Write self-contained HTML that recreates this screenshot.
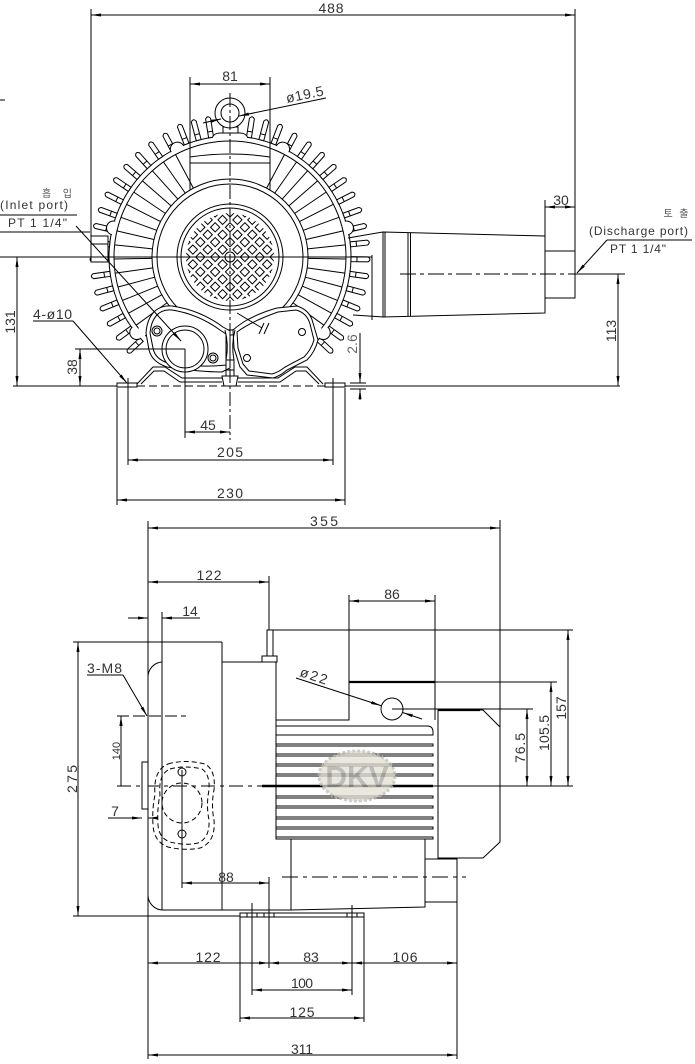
<!DOCTYPE html>
<html><head><meta charset="utf-8"><style>
html,body{margin:0;padding:0;background:#fff}
svg{display:block}
text{font-family:"Liberation Sans","Noto Sans CJK KR",sans-serif;fill:#333;font-size:14px}
.d{marker-start:url(#ar);marker-end:url(#ar)}
.e{marker-end:url(#ar)}
</style></head><body>
<svg width="695" height="1064" viewBox="0 0 695 1064" xmlns="http://www.w3.org/2000/svg">
<defs>
<marker id="ar" markerUnits="userSpaceOnUse" markerWidth="10" markerHeight="4" refX="10" refY="2" orient="auto-start-reverse" viewBox="0 0 10 4"><path d="M0,0.5 L10,2 L0,3.5z" fill="#000" stroke="none"/></marker>
<pattern id="grid" width="10.5" height="10.5" patternUnits="userSpaceOnUse" patternTransform="rotate(45 230 257) translate(224.75 251.75)">
<rect x="2" y="2" width="6.5" height="6.5" fill="#fff" stroke="#000" stroke-width="1"/>
</pattern>
<g id="fin" fill="#fff" stroke="#000" stroke-width="1">
<line x1="230" y1="179" x2="230" y2="141"/>
<path d="M227.5,136 L227.5,119 Q230,115 232.5,119 L232.5,136 Z"/>
<line x1="227.5" y1="130" x2="232.5" y2="130"/>
</g>
<g id="finb" fill="#fff" stroke="#000" stroke-width="1">
<path d="M227.5,136 L227.5,117 Q230,113 232.5,117 L232.5,136 Z"/>
<line x1="227.5" y1="130" x2="232.5" y2="130"/>
</g>
<path id="bump" d="M223,137 A7,7 0 0 1 237,137" fill="#fff" stroke="#000"/>
</defs>

<g stroke="#000" stroke-width="1" fill="none">
<!-- ===== TOP VIEW ===== -->
<line x1="91" y1="9" x2="91" y2="262"/>
<line x1="575" y1="9" x2="575" y2="298"/>
<line class="d" x1="91" y1="15" x2="575" y2="15"/>
<line x1="0" y1="100" x2="5" y2="100"/>

<path d="M190,192 V157 Q230,151 270,157 V192"/>
<line x1="190" y1="163" x2="270" y2="163"/>
<line x1="190" y1="77" x2="190" y2="157"/>
<line x1="270" y1="77" x2="270" y2="157"/>
<line class="d" x1="190" y1="84" x2="270" y2="84"/>

<path d="M134.7,331.5 A121,121 0 1 1 325.3,331.5"/>
<path d="M138.6,328.4 A116,116 0 1 1 321.4,328.4"/>

<use href="#finb" transform="rotate(9 230 257)"/>
<use href="#finb" transform="rotate(15 230 257)"/>
<use href="#finb" transform="rotate(21 230 257)"/>
<use href="#fin" transform="rotate(28 230 257)"/>
<use href="#fin" transform="rotate(35 230 257)"/>
<use href="#fin" transform="rotate(42 230 257)"/>
<use href="#fin" transform="rotate(49 230 257)"/>
<use href="#fin" transform="rotate(56 230 257)"/>
<use href="#fin" transform="rotate(63 230 257)"/>
<use href="#fin" transform="rotate(70 230 257)"/>
<use href="#fin" transform="rotate(77 230 257)"/>
<use href="#fin" transform="rotate(84 230 257)"/>
<use href="#fin" transform="rotate(91 230 257)"/>
<use href="#fin" transform="rotate(98 230 257)"/>
<use href="#fin" transform="rotate(105 230 257)"/>
<use href="#fin" transform="rotate(112 230 257)"/>
<use href="#fin" transform="rotate(119 230 257)"/>
<use href="#fin" transform="rotate(126 230 257)"/>
<use href="#fin" transform="rotate(133 230 257)"/>
<use href="#finb" transform="rotate(-9 230 257)"/>
<use href="#finb" transform="rotate(-15 230 257)"/>
<use href="#finb" transform="rotate(-21 230 257)"/>
<use href="#fin" transform="rotate(-28 230 257)"/>
<use href="#fin" transform="rotate(-35 230 257)"/>
<use href="#fin" transform="rotate(-42 230 257)"/>
<use href="#fin" transform="rotate(-49 230 257)"/>
<use href="#fin" transform="rotate(-56 230 257)"/>
<use href="#fin" transform="rotate(-63 230 257)"/>
<use href="#fin" transform="rotate(-70 230 257)"/>
<use href="#fin" transform="rotate(-77 230 257)"/>
<use href="#fin" transform="rotate(-84 230 257)"/>
<use href="#fin" transform="rotate(-91 230 257)"/>
<use href="#fin" transform="rotate(-98 230 257)"/>
<use href="#fin" transform="rotate(-105 230 257)"/>
<use href="#fin" transform="rotate(-112 230 257)"/>
<use href="#fin" transform="rotate(-119 230 257)"/>
<use href="#fin" transform="rotate(-126 230 257)"/>
<use href="#fin" transform="rotate(-133 230 257)"/>
<use href="#bump" transform="rotate(26 230 257)"/>
<use href="#bump" transform="rotate(-26 230 257)"/>
<use href="#bump" transform="rotate(76 230 257)"/>
<use href="#bump" transform="rotate(-76 230 257)"/>
<use href="#bump" transform="rotate(129 230 257)"/>
<use href="#bump" transform="rotate(-129 230 257)"/>

<path d="M212,138 Q214,133 220,133 H240 Q246,133 248,138" fill="#fff"/>
<rect x="223" y="127" width="15" height="6" fill="#fff"/>
<circle cx="230" cy="113" r="15" fill="#fff"/>
<circle cx="230" cy="113" r="9"/>

<circle cx="230" cy="257" r="78" fill="#fff"/>
<circle cx="230" cy="257" r="73"/>
<circle cx="230" cy="257" r="53"/>
<circle cx="230" cy="257" r="49"/>
<circle cx="230" cy="257" r="44" fill="url(#grid)" stroke="none"/>
<circle cx="230" cy="257" r="5" fill="#fff"/>

<rect x="91" y="236" width="17" height="26" fill="#fff"/>
<line x1="91" y1="244" x2="108" y2="244"/>

<path d="M348,238 L383,232 M353,315 L383,317"/>
<line x1="372" y1="255" x2="372" y2="320"/>
<path d="M383,232 L545,236 L545,313 L383,317 Z" fill="#fff"/>
<line x1="385" y1="232" x2="385" y2="317"/>
<line x1="408" y1="232.5" x2="408" y2="316.5"/>
<line x1="410.5" y1="232.6" x2="410.5" y2="316.4"/>
<rect x="545" y="251" width="30" height="47" fill="#fff"/>

<path d="M153,313 Q160,305 172,306 Q200,310 223,327 L230,331 L230,368 L222,372 Q200,372 167,367 Q152,362 149,350 L146,333 Q147,320 153,313 Z" fill="#fff"/>
<path d="M156,316 Q162,309 172,310 Q198,314 220,330 L226,334 L226,365 Q200,368 168,363 Q155,359 153,348 L150,333 Q151,322 156,316 Z"/>
<circle cx="185" cy="349" r="23" fill="#fff"/>
<circle cx="185" cy="349" r="19"/>
<circle cx="157" cy="331" r="5"/><circle cx="157" cy="331" r="3"/>
<circle cx="213" cy="358" r="5"/><circle cx="213" cy="358" r="3"/>

<path d="M233,330 Q240,324 247,320 Q262,312 277,308 L297,306 Q310,310 313,323 L318,340 Q315,352 307,360 L287,370 Q280,376 273,378 L247,375 L240,367 L234,348 Z" fill="#fff"/>
<path d="M237,332 Q250,322 278,312 L296,310 Q307,313 310,324 L314,340 Q311,350 304,357 L285,367 Q279,372 272,374 L249,371 L243,364 L238,348 Z"/>
<circle cx="302" cy="332" r="3.5"/>
<circle cx="247" cy="358" r="3.5"/>
<line x1="237" y1="313" x2="262" y2="328"/>
<path d="M259,334 L264,323 M264,334 L269,323"/>

<path d="M225,330 Q229,345 226,360 V376 M235,330 Q231,345 234,360 V376"/>
<rect x="226" y="360" width="8" height="10"/>
<path d="M222,376 H238 L236,386 H224 Z" fill="#fff"/>

<rect x="117" y="383" width="20" height="4" fill="#fff"/>
<rect x="325" y="383" width="20" height="4" fill="#fff"/>
<path d="M137,384 L153,367 L165,367 L182,378 L222,378"/>
<path d="M141,384 L154,371 L164,371 L180,382 L222,382"/>
<path d="M238,378 L278,378 L295,367 L307,367 L323,384"/>
<path d="M238,382 L280,382 L296,371 L306,371 L319,384"/>

<line x1="13" y1="386" x2="117" y2="386"/>
<line x1="137" y1="386" x2="325" y2="386" stroke-dasharray="8 4"/>
<line x1="345" y1="386" x2="620" y2="386"/>

<line x1="230" y1="93" x2="230" y2="440" stroke-dasharray="14 3 3 3"/>
<line x1="0" y1="257" x2="372" y2="257"/>
<line x1="400" y1="274" x2="575" y2="274" stroke-dasharray="16 4 4 4"/>
<line x1="575" y1="274" x2="625" y2="274"/>

<line class="e" x1="203" y1="123" x2="221" y2="119"/>
<line class="e" x1="326" y1="98" x2="239" y2="116"/>

<line x1="0" y1="215" x2="77" y2="215"/>
<line x1="0" y1="232" x2="90" y2="232"/>
<line class="e" x1="76" y1="226" x2="181" y2="341"/>

<line class="d" x1="17" y1="257" x2="17" y2="386"/>
<line x1="75" y1="349" x2="185" y2="349"/>
<line class="d" x1="80" y1="349" x2="80" y2="386"/>
<line x1="33" y1="321" x2="73" y2="321"/>
<line class="e" x1="73" y1="321" x2="127" y2="383"/>
<line x1="185" y1="349" x2="185" y2="438"/>
<line x1="128" y1="378" x2="128" y2="465"/>
<line x1="333" y1="378" x2="333" y2="465"/>
<line x1="117" y1="388" x2="117" y2="505"/>
<line x1="345" y1="388" x2="345" y2="505"/>
<line class="d" x1="185" y1="432" x2="230" y2="432"/>
<line class="d" x1="128" y1="460" x2="333" y2="460"/>
<line class="d" x1="117" y1="500" x2="345" y2="500"/>
<line x1="350" y1="383" x2="366" y2="383"/>
<line x1="350" y1="389" x2="366" y2="389"/>
<line class="e" x1="360" y1="333" x2="360" y2="383"/>
<line class="e" x1="360" y1="400" x2="360" y2="389"/>
<line class="d" x1="618" y1="274" x2="618" y2="386"/>
<line x1="545" y1="200" x2="545" y2="251"/>
<line class="d" x1="545" y1="207" x2="575" y2="207"/>
<line x1="607" y1="240" x2="692" y2="240"/>
<line class="e" x1="607" y1="240" x2="577" y2="273"/>

<!-- ===== SIDE VIEW ===== -->
<line x1="148" y1="521" x2="148" y2="1059"/>
<line x1="500" y1="520" x2="500" y2="842"/>
<line class="d" x1="148" y1="528" x2="500" y2="528"/>
<line x1="269" y1="576" x2="269" y2="630"/>
<line class="d" x1="148" y1="582" x2="269" y2="582"/>
<line x1="162" y1="612" x2="162" y2="642"/>
<line class="e" x1="128" y1="618" x2="148" y2="618"/>
<line class="e" x1="200" y1="618" x2="162" y2="618"/>
<line x1="349" y1="595" x2="349" y2="682"/>
<line x1="435" y1="595" x2="435" y2="682"/>
<line class="d" x1="349" y1="601" x2="435" y2="601"/>

<line x1="73" y1="642" x2="222" y2="642"/>
<line x1="162" y1="642" x2="162" y2="910"/>
<line x1="222" y1="642" x2="222" y2="910"/>
<path d="M148,677 A15,15 0 0 1 162,662"/>
<path d="M148,895 A15,15 0 0 0 163,910"/>
<line x1="162" y1="910" x2="291" y2="910"/>
<path d="M222,662 H276 V839"/>
<rect x="267" y="630" width="6" height="26" fill="#fff"/>
<rect x="262" y="656" width="15" height="6" fill="#fff"/>
<line x1="273" y1="630" x2="573" y2="630"/>
<path d="M276,720 H349 V682"/>
<line x1="349" y1="682" x2="435" y2="682" stroke-width="2.2"/>
<line x1="435" y1="682" x2="557" y2="682"/>
<line x1="435" y1="682" x2="435" y2="720"/>
<circle cx="392" cy="709" r="11"/>
<path d="M276,726 H427 Q433,726 433,732 V735 H276"/>
<g fill="#fff">
<rect x="276" y="744" width="157" height="2"/>
<rect x="276" y="754" width="157" height="2"/>
<rect x="276" y="764" width="157" height="2"/>
<rect x="276" y="774" width="157" height="2"/>
<rect x="276" y="796" width="157" height="2"/>
<rect x="276" y="806" width="157" height="2"/>
<rect x="276" y="817" width="157" height="2"/>
<rect x="276" y="827" width="157" height="2"/>
<rect x="276" y="837" width="157" height="2"/>
</g>
<path d="M291,839 V910 L425,907 V839"/>
<path d="M425,859 H457 V902 H425"/>
<line x1="282" y1="877" x2="466" y2="877" stroke-dasharray="16 5 4 5"/>
<path d="M438,710 V858 H483 L500,842 V727 L483,710 Z"/>
<line x1="438" y1="710" x2="480" y2="710" stroke-width="2.2"/>
<line x1="392" y1="709" x2="533" y2="709"/>
<line class="d" x1="568" y1="630" x2="568" y2="786"/>
<line class="d" x1="551" y1="682" x2="551" y2="786"/>
<line class="d" x1="527" y1="709" x2="527" y2="786"/>
<line x1="433" y1="786" x2="573" y2="786"/>
<line x1="262" y1="786" x2="433" y2="786" stroke-width="2.4"/>
<line x1="117" y1="786" x2="262" y2="786" stroke-dasharray="14 5 4 5"/>
<line class="e" x1="296" y1="678" x2="381" y2="705.6"/>
<line class="e" x1="422" y1="719" x2="403" y2="712.6"/>

<rect x="142" y="762" width="6" height="47" fill="#fff"/>
<g stroke-dasharray="5 3">
<path d="M168,764 Q185,759 205,764 Q216,770 214,790 Q211,805 214,820 Q216,842 200,848 Q185,851 168,847 Q154,842 153,825 Q152,808 155,795 Q153,770 168,764 Z"/>
<path d="M170,769 Q185,765 202,769 Q210,774 209,790 Q206,805 209,820 Q210,838 198,843 Q185,846 170,842 Q159,838 158,825 Q157,808 160,795 Q158,774 170,769 Z"/>
<circle cx="182" cy="803" r="20"/>
</g>
<circle cx="182" cy="772" r="4"/>
<circle cx="182" cy="834" r="4"/>
<line class="e" x1="108" y1="818" x2="142" y2="818"/>
<line class="e" x1="158" y1="818" x2="148" y2="818"/>
<line class="d" x1="78" y1="642" x2="78" y2="916"/>
<line x1="73" y1="916" x2="240" y2="916"/>
<line x1="87" y1="675" x2="123" y2="675"/>
<line class="e" x1="123" y1="675" x2="147" y2="716"/>
<line x1="117" y1="716" x2="186" y2="716" stroke-dasharray="12 4"/>
<line x1="121" y1="716" x2="121" y2="786"/>
<path d="M121,716 L119.4,726 L122.6,726 Z" fill="#000" stroke="none"/>

<rect x="240" y="913" width="124" height="4" fill="#fff"/>
<path d="M247,913 V917 M252,913 V917 M257,913 V917 M264,913 V917 M269,913 V917 M274,913 V917 M347,913 V917 M352,913 V917 M357,913 V917"/>
<line x1="182" y1="770" x2="182" y2="888"/>
<line x1="269" y1="877" x2="269" y2="968"/>
<line class="d" x1="182" y1="883" x2="269" y2="883"/>
<line x1="240" y1="917" x2="240" y2="1022"/>
<line x1="252" y1="903" x2="252" y2="995"/>
<line x1="352" y1="905" x2="352" y2="995"/>
<line x1="364" y1="917" x2="364" y2="1022"/>
<line x1="457" y1="902" x2="457" y2="1059"/>
<line class="d" x1="148" y1="963" x2="269" y2="963"/>
<line class="d" x1="269" y1="963" x2="352" y2="963"/>
<line class="d" x1="352" y1="963" x2="457" y2="963"/>
<line class="d" x1="252" y1="990" x2="352" y2="990"/>
<line class="d" x1="240" y1="1018" x2="364" y2="1018"/>
<line class="d" x1="148" y1="1055" x2="457" y2="1055"/>
</g>

<g opacity="0.75">
<ellipse cx="357" cy="776" rx="38" ry="25" fill="#e2dfd3" stroke="#bdbdb5" stroke-width="3" stroke-dasharray="3 2"/>
<text x="357" y="787" text-anchor="middle" style="font-size:30px;font-weight:bold;fill:#a8a8a2">DKV</text>
</g>

<g>
<text x="331" y="13" text-anchor="middle" textLength="25">488</text>
<text x="230" y="81" text-anchor="middle">81</text>
<text x="287" y="103" transform="rotate(-11.7 287 103)" textLength="38">ø19.5</text>
<text x="57" y="197" text-anchor="middle" style="font-size:10px;fill:#555" textLength="30">흡 입</text>
<text x="0" y="209" style="font-size:12px" textLength="68">(Inlet  port)</text>
<text x="8" y="227" style="font-size:12px" textLength="59">PT 1 1/4"</text>
<text x="10" y="322" dy="5" text-anchor="middle" transform="rotate(-90 10 322)">131</text>
<text x="33" y="319" textLength="39">4-ø10</text>
<text x="72" y="367" dy="5" text-anchor="middle" transform="rotate(-90 72 367)">38</text>
<text x="208" y="430" text-anchor="middle">45</text>
<text x="230" y="457" text-anchor="middle" textLength="26">205</text>
<text x="230" y="498" text-anchor="middle" textLength="26">230</text>
<text x="352" y="344" dy="5" text-anchor="middle" transform="rotate(-90 352 344)" style="fill:#666">2.6</text>
<text x="611" y="331" dy="5" text-anchor="middle" transform="rotate(-90 611 331)">113</text>
<text x="561" y="205" text-anchor="middle">30</text>
<text x="676" y="217" text-anchor="middle" style="font-size:10px;fill:#555" textLength="25">토 출</text>
<text x="589" y="235" style="font-size:12px" textLength="99">(Discharge port)</text>
<text x="610" y="253" style="font-size:12px" textLength="56">PT 1 1/4"</text>

<text x="324" y="526" text-anchor="middle" textLength="28">355</text>
<text x="209" y="580" text-anchor="middle" textLength="25">122</text>
<text x="190" y="616" text-anchor="middle">14</text>
<text x="392" y="599" text-anchor="middle">86</text>
<text x="299" y="676" transform="rotate(18 299 676)" textLength="28">ø22</text>
<text x="561" y="708" dy="5" text-anchor="middle" transform="rotate(-90 561 708)">157</text>
<text x="544" y="733" dy="5" text-anchor="middle" transform="rotate(-90 544 733)" textLength="36">105.5</text>
<text x="520" y="748" dy="5" text-anchor="middle" transform="rotate(-90 520 748)" textLength="30">76.5</text>
<text x="87" y="673" textLength="35">3-M8</text>
<text x="116" y="751" dy="4" text-anchor="middle" transform="rotate(-90 116 751)" style="font-size:11px">140</text>
<text x="72" y="779" dy="5" text-anchor="middle" transform="rotate(-90 72 779)" textLength="28">275</text>
<text x="115" y="816" text-anchor="middle">7</text>
<text x="226" y="882" text-anchor="middle">88</text>
<text x="208" y="962" text-anchor="middle" textLength="25">122</text>
<text x="311" y="962" text-anchor="middle">83</text>
<text x="405" y="962" text-anchor="middle" textLength="25">106</text>
<text x="302" y="988" text-anchor="middle" textLength="22">100</text>
<text x="302" y="1017" text-anchor="middle" textLength="25">125</text>
<text x="302" y="1054" text-anchor="middle" textLength="22">311</text>
</g>
</svg>
</body></html>
